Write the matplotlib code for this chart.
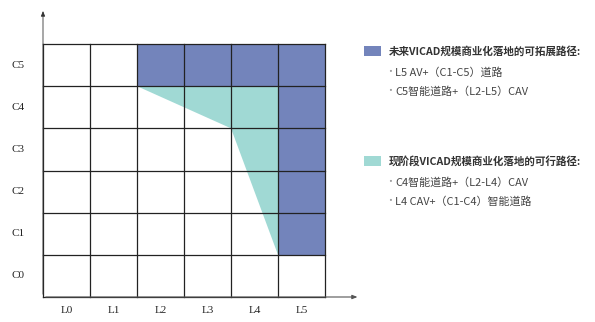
import matplotlib.pyplot as plt
from matplotlib.patches import Polygon, Rectangle

plt.rcParams['font.family'] = ['Noto Sans CJK SC', 'DejaVu Sans']

# vehicle autonomy levels (x) and road connectivity levels (y)
levels = ["L0", "L1", "L2", "L3", "L4", "L5"]
roads = ["C0", "C1", "C2", "C3", "C4", "C5"]

# expandable route: C5 row for L2-L5, L5 column for C1-C5
future_cells = [(2, 5), (3, 5), (4, 5), (5, 5), (5, 4), (5, 3), (5, 2), (5, 1)]
# feasible route today, outline given as grid corners
current_path = [(2, 5), (5, 5), (5, 1), (4, 4)]

future_title = "未来VICAD规模商业化落地的可拓展路径:"
future_items = ["L5 AV+（C1-C5）道路", "C5智能道路+（L2-L5）CAV"]
current_title = "现阶段VICAD规模商业化落地的可行路径:"
current_items = ["C4智能道路+（L2-L4）CAV", "L4 CAV+（C1-C4）智能道路"]

blue = "#7384bb"
teal = "#a0d9d4"
W, H = 595, 322

fig = plt.figure(figsize=(W / 100, H / 100), dpi=100)
ax = fig.add_axes([43 / W, 25 / H, 282 / W, 253 / H])
ax.set_xlim(0, len(levels))
ax.set_ylim(0, len(roads))
ax.axis("off")

for c, r in future_cells:
    ax.add_patch(Rectangle((c, r), 1, 1, facecolor=blue, edgecolor="none"))
ax.add_patch(Polygon(current_path, closed=True, facecolor=teal, edgecolor="none"))

# grid lines
for i in range(len(levels) + 1):
    ax.plot([i, i], [0, len(roads)], color="#222222", lw=0.9, clip_on=False)
for j in range(len(roads) + 1):
    ax.plot([0, len(levels)], [j, j], color="#222222", lw=0.9, clip_on=False)

# axes arrows
ax.annotate("", xy=(0, 6.85), xytext=(0, 0), annotation_clip=False,
            arrowprops=dict(arrowstyle="-|>,head_length=0.3,head_width=0.12", color="#333333", lw=0.6))
ax.annotate("", xy=(6.75, 0), xytext=(0, 0), annotation_clip=False,
            arrowprops=dict(arrowstyle="-|>,head_length=0.3,head_width=0.12", color="#555555", lw=0.8))

for i, lab in enumerate(levels):
    ax.text(i + 0.5, -0.31, lab, ha="center", va="center", fontsize=8,
            family="Liberation Serif", color="#222222")
for j, lab in enumerate(roads):
    ax.text(-0.53, j + 0.5, lab, ha="center", va="center", fontsize=8,
            family="Liberation Serif", color="#222222")


def px(x, y):
    return x / W, 1 - y / H


def legend_block(color, y0, title, items):
    fig.patches.append(Rectangle(px(364, y0 + 10), 17 / W, 10 / H, facecolor=color,
                                 edgecolor="none", transform=fig.transFigure))
    fig.text(*px(389, y0 + 5), title, fontsize=7.6, fontweight="bold",
             color="#333333", va="center", ha="left")
    for k, item in enumerate(items):
        yy = y0 + 26 + k * 19
        fig.text(*px(390, yy), "·", fontsize=7, color="#999999", va="center", ha="center")
        fig.text(*px(395, yy), item, fontsize=7.9, color="#444444", va="center", ha="left")


legend_block(blue, 46, future_title, future_items)
legend_block(teal, 156, current_title, current_items)

fig.savefig("out.png", dpi=100)
